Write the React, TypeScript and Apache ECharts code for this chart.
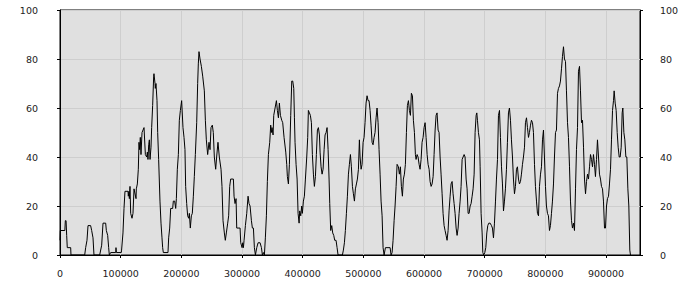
import React, { useEffect, useRef } from "react";
import * as echarts from "echarts";

// samples: [position in thousands, value]
const segmentA: number[][] = [
  [0,6],[0.5,10],[8,10],[8.8,14],[10,14],[11,8],[12,3],[17.6,3],[18.1,0],[40.7,0],[42.3,3],[44.5,6],[46.2,12],[50.5,12],[52.2,10],[54.4,7],[56,0],[65.4,0],[68.7,4],[70.9,13],[75.3,13],[76.4,10],[78.6,8],[80.2,3],[81.3,0],[83.5,1],[91.8,1],[92.3,3],[93,1],[101,1],[101.5,2],[103.8,9],[105.5,19],[107.1,26],[112.1,26],[112.6,24],[113.7,26],[114.3,23],[115.4,28],[116.5,17],[118.7,15],[120.3,17],[122,27],[125.3,23],[125.8,27],[127.5,29],[129.1,35],[130.2,46],[131.3,43],[132.4,48],[133.5,41],[135.2,50],[138.5,52],[140.7,41],[142.9,40],[144,42],[145,39],[146.2,45],[147.3,47],[148.4,39],[150,44],[151.1,52],[152.7,61],[154.4,73],[154.9,74],[156.6,70],[157.1,68],[158.2,70],[159.9,63],[161,50],[162.6,39],[164.8,22],[166.5,13],[168.1,7],[169.2,3],[170.3,1],[178,1],[179.1,7],[180.8,11],[182.4,19],[185.7,19],[186.8,22],[189,22],[190.7,19],[191.8,23],[193.4,35],[195.1,41],[196.7,55],[198.4,59],[200.5,63],[202.7,52],[204.4,48],[206,43],[207.1,28],[208.8,21],[210.4,16],[212.1,15],[213.2,17],[214.8,11],[216.5,16],[218.1,17],[219.8,24],[221.4,32],[223.1,41],[225.3,54],[226.9,70],[228,78],[229.1,83],[230.8,80],[233,77],[235.2,73],[237.9,67],[239.6,55],[241.2,47],[243.4,41],[245.6,46],[247.3,43],[248.9,52],[251.1,53],[252.7,50],[254.4,40],[256.6,35],[258.2,40],[260.4,46],[262.6,40],[265.4,35],[267,28],[268.7,14],[270.9,9],[272.5,6],[274.2,9],[276.4,13],[278,16],[279.7,28],[281.3,31],
];

const segmentB: number[][] = [
  [285.8,31],[286.9,24],[288.5,21],[290.2,23],[291.3,11],[296.8,11],[297.9,5],[300.1,3],[301.2,5],[302.3,3],[303.4,6],[305.6,12],[307.8,17],[310,24],[311.6,21],[313.3,20],[315.5,14],[317.1,11],[318.8,11],[320.4,3],[322.1,0],[324.3,3],[326.5,5],[329.8,5],[332,3],[333.6,0],[335.3,1],[336.9,0],[338.5,7],[340.2,16],[341.8,30],[343.5,41],[345.7,46],[347.3,53],[348.4,50],[349.5,52],[351.2,49],[352.3,57],[354.5,60],[356.7,63],[358.3,59],[360,56],[361.6,62],[363.3,57],[365.5,55],[367.1,54],[369.3,48],[372.1,42],[373.7,37],[374.8,32],[376.5,29],[378.1,37],[380.3,57],[382,71],[383.6,71],[385.3,68],[386.4,56],[387.4,46],[389.1,37],[390.8,31],[392.4,17],[394.1,13],[395.1,18],[396.8,16],[398.4,20],[399.5,17],[401.2,22],[402.8,24],[404.5,31],[406.7,40],[408.3,48],[409.4,59],[411.1,58],[412.7,57],[414.4,54],[416,41],[417.7,33],[419.3,28],[421,32],[422.6,41],[424.3,51],[425.9,52],[427.6,49],[428.7,42],[430.3,36],[432,33],[433.6,35],[435.3,43],[436.9,49],[438.6,50],[440.2,52],[441.9,43],[443.5,31],[444.6,21],[446.2,10],[447.9,12],[449.5,9],[451.2,8],[452.8,6],[455,6],[456.7,3],[458.3,0],[465.5,0],[467.1,2],[468.8,5],[470.4,10],[472.1,17],[473.7,24],[475.4,33],[477,37],[478.7,41],[480.3,36],[482,28],[483.6,25],[485.3,22],[486.9,27],[488.6,29],[490.2,31],[491.9,35],[493.5,47],[494.6,40],[496.3,35],[497.9,37],[499.6,46],[501.2,48],[502.8,54],[504.5,62],[506.1,65],[507.8,63],[509.4,63],[511.1,59],[512.7,53],[514.4,46],[516,45],[517.7,48],[519.3,50],[521,56],[522.6,60],[524.3,54],[525.9,43],[527.6,33],[529.2,22],[530.9,16],[532.5,3],[534.2,0],[536.4,3],[544.1,3],[545.7,0],[547.4,1],[549,6],[550.7,14],[552.3,20],[554,28],[555.6,37],[557.8,36],[559.4,33],[561.1,36],[562.7,28],[564.4,24],[566,31],[567.7,33],[569.3,37],[571,50],[572.6,61],[574.3,63],[575.9,59],[577.6,57],[579.2,66],[580.9,65],[582.5,55],[584.2,50],[585.8,41],[586.9,39],[588.6,41],[590.2,40],[591.9,37],[593.5,35],[595.2,39],[596.8,46],[598.5,48],[600.1,52],[601.8,54],[603.4,48],[605.1,41],[606.7,37],[608.4,35],[610,30],[611.7,28],[613.3,29],[615,32],[616.6,41],[618.3,51],[619.9,57],[621.5,58],[623.2,51],[624.8,50],[626.5,40],[628.1,33],[629.8,25],[631.4,17],[633.1,12],[634.7,10],[636.4,8],[638,6],[639.7,10],[641.3,18],[643,24],[644.6,29],[646.3,30],[647.9,25],[649.6,21],[651.2,17],[652.9,11],[654.5,8],[656.2,11],[657.8,17],
];

const segmentC: number[][] = [
  [659.5,22],[661.1,28],[662.8,39],[664.4,40],[666.1,41],[667.7,40],[669.4,31],[671,27],[672.7,17],[674.3,17],[676,20],[677.6,21],[679.3,24],[680.9,27],[682.6,33],[684.2,50],[685.9,57],[687,58],[688.1,55],[689.7,50],[691.4,47],[692.5,36],[694.1,17],[695.8,9],[696.9,1],[698.5,0],[700.2,1],[701.8,3],[703.5,9],[705.1,12],[706.8,13],[709,13],[711.2,12],[712.8,11],[714.5,7],[716.1,13],[717.8,22],[719.4,31],[721.1,39],[722.7,57],[724.4,59],[726,48],[727.7,36],[729.3,29],[731,18],[732.6,22],[734.2,27],[735.9,35],[737.5,46],[739.2,58],[740.8,60],[742.5,55],[744.1,47],[745.8,40],[747.4,31],[749.1,25],[750.7,28],[752.4,35],[754,36],[755.7,31],[757.3,29],[759,30],[760.6,33],[762.3,37],[763.9,40],[765.6,44],[767.2,54],[768.9,56],[770.5,52],[772.2,48],[773.8,50],[775.5,53],[777.1,55],[778.8,54],[780.4,50],[782.1,37],[783.7,28],[785.4,22],[787,17],[788.7,16],[790.3,28],[792,33],[793.6,36],[795.3,47],[796.9,51],[798.5,40],[800.2,28],[801.8,20],[803.5,17],[805.1,16],[806.8,10],[808.4,12],[810.1,17],[811.7,22],[813.4,29],[815,40],[816.7,50],[818.3,51],[820,66],[821.6,68],[823.3,69],[824.9,71],[826.6,76],[828.2,81],[829.9,85],[831.5,80],[833.2,79],[834.8,67],[836.5,54],[838.1,48],[839.8,36],[841.4,22],[843.1,14],[844.7,11],[846.4,13],[848,10],[849.7,27],[851.3,43],[853,52],[854.6,75],[856.3,77],[857.9,67],[859.6,54],[861.2,55],[862.9,44],[864.5,31],[866.2,25],[867.8,30],[869.5,33],[871.1,31],[872.8,36],[874.4,41],[876.1,39],[877.7,36],[879.3,41],[881,37],[882.6,32],[884.3,39],[885.9,47],[887.6,40],[889.2,33],[890.9,31],[892.5,28],[894.2,27],[895.8,22],[897.5,11],[899.1,11],[900.8,20],[902.4,23],[904.1,24],[905.7,29],[907.4,35],[909,47],[910.7,59],[912.3,63],[913.4,67],[915.1,62],[916.7,59],[918.4,50],[920,44],[921.7,40],[923.3,40],[925,44],[926.6,58],[927.7,60],[929.4,50],[931,47],[932.7,40],[934.3,40],[936,27],[937.6,20],[939.2,2],[940.3,0],
];

const X_MIN = 0;
const X_MAX = 956000;
const X_STEP = 100000;
const Y_MIN = 0;
const Y_MAX = 100;
const Y_STEP = 20;

export default function App() {
  const ref = useRef<HTMLDivElement>(null);

  useEffect(() => {
    if (!ref.current) return;
    const chart = echarts.init(ref.current, undefined, { renderer: "svg" });
    const data = [...segmentA, ...segmentB, ...segmentC].map(([k, v]) => [k * 1000, v]);
    const labelFont = {
      fontFamily: "DejaVu Sans",
      fontSize: 9.5,
      color: "#222",
    };
    chart.setOption({
      animation: false,
      backgroundColor: "#ffffff",
      grid: {
        left: 60,
        right: 60,
        top: 10,
        bottom: 45,
        show: true,
        backgroundColor: "#e0e0e0",
        borderColor: "#000",
        borderWidth: 1,
      },
      xAxis: {
        type: "value",
        min: X_MIN,
        max: X_MAX,
        interval: X_STEP,
        axisLine: { lineStyle: { color: "#000", width: 1 } },
        axisTick: { show: true, length: 3, lineStyle: { color: "#000" } },
        axisLabel: {
          ...labelFont,
          margin: 13,
          showMaxLabel: false,
          formatter: (v: number) => (v % X_STEP === 0 ? String(v) : ""),
        },
        splitLine: { show: true, lineStyle: { color: "#cecece", width: 1 } },
      },
      yAxis: [
        {
          type: "value",
          min: Y_MIN,
          max: Y_MAX,
          interval: Y_STEP,
          position: "left",
          axisLine: { show: true, lineStyle: { color: "#000", width: 1 } },
          axisTick: { show: true, length: 3, lineStyle: { color: "#000" } },
          axisLabel: { ...labelFont, margin: 22 },
          splitLine: { show: true, lineStyle: { color: "#cecece", width: 1 } },
        },
        {
          type: "value",
          min: Y_MIN,
          max: Y_MAX,
          interval: Y_STEP,
          position: "right",
          axisLine: { show: true, lineStyle: { color: "#000", width: 1 } },
          axisTick: { show: true, length: 3, lineStyle: { color: "#000" } },
          axisLabel: { ...labelFont, margin: 20 },
          splitLine: { show: false },
        },
      ],
      series: [
        {
          type: "line",
          data,
          showSymbol: false,
          symbol: "none",
          lineStyle: { color: "#000", width: 1 },
          silent: true,
        },
      ],
    });
    return () => chart.dispose();
  }, []);

  return (
    <div
      ref={ref}
      style={{ position: "fixed", left: 0, top: 0, width: 700, height: 300 }}
    />
  );
}
